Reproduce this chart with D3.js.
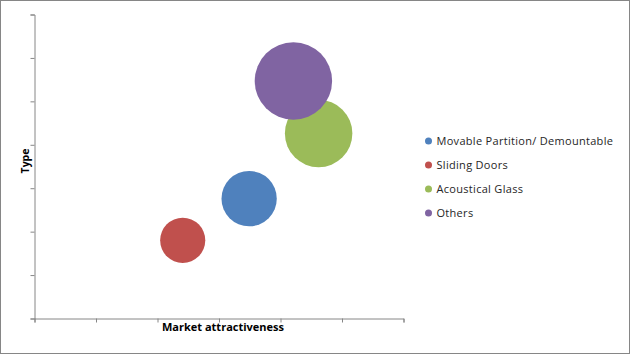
<!DOCTYPE html>
<html>
<head>
<meta charset="utf-8">
<script src="https://cdn.jsdelivr.net/npm/d3@7"></script>
<style>
  body { margin: 0; background: #fff; }
  svg { display: block; font-family: "Open Sans", "Liberation Sans", sans-serif; }
</style>
</head>
<body>
<div id="chart"></div>
<script>
// chart data
const categories = ["Movable Partition/ Demountable", "Sliding Doors", "Acoustical Glass", "Others"];
const xValues = [3.49, 2.41, 4.62, 4.21];     // market attractiveness
const yValues = [2.76, 1.80, 4.26, 5.47];     // type
const sizeValues = [5.1, 3.4, 7.6, 10];       // bubble size
const colors = ["#4f81bd", "#c0504d", "#9bbb59", "#8064a2"];
const xTicks = [0, 1, 2, 3, 4, 5, 6];
const yTicks = [0, 1, 2, 3, 4, 5, 6, 7];

const width = 630, height = 354;

const svg = d3.select("#chart").append("svg")
  .attr("width", width)
  .attr("height", height);

// outer border
svg.append("rect")
  .attr("x", 0.5).attr("y", 0.5)
  .attr("width", width - 1).attr("height", height - 1)
  .attr("fill", "#fff")
  .attr("stroke", "#868686");

const xScale = d3.scaleLinear().domain([0, 6]).range([34.5, 403.5]);
const yScale = d3.scaleLinear().domain([0, 7]).range([318.5, 14.5]);
const rScale = d3.scaleSqrt().domain([0, d3.max(sizeValues)]).range([0, 38.7]);

const xAxis = d3.axisBottom(xScale).tickValues(xTicks).tickSize(4).tickFormat("");
const yAxis = d3.axisLeft(yScale).tickValues(yTicks).tickSize(4).tickFormat("");

const gx = svg.append("g").attr("transform", "translate(0,318.5)").call(xAxis);
const gy = svg.append("g").attr("transform", "translate(34.5,0)").call(yAxis);
[gx, gy].forEach(g => {
  g.select(".domain").attr("stroke", "#868686");
  g.selectAll(".tick line").attr("stroke", "#868686");
});

// bubbles, drawn in data order (Others ends on top)
const data = categories.map((c, i) => ({
  name: c, x: xValues[i], y: yValues[i], size: sizeValues[i], color: colors[i]
}));

svg.selectAll("circle.bubble")
  .data(data)
  .enter()
  .append("circle")
  .attr("class", "bubble")
  .attr("cx", d => xScale(d.x))
  .attr("cy", d => yScale(d.y))
  .attr("r", d => rScale(d.size))
  .attr("fill", d => d.color);

// axis titles
svg.append("text")
  .attr("x", 223)
  .attr("y", 331)
  .attr("text-anchor", "middle")
  .style("font-size", "11px")
  .style("font-weight", "bold")
  .attr("fill", "#000")
  .text("Market attractiveness");

svg.append("text")
  .attr("transform", "translate(28.5,161) rotate(-90)")
  .attr("text-anchor", "middle")
  .style("font-size", "10.5px")
  .style("font-weight", "bold")
  .attr("fill", "#000")
  .text("Type");

// legend
const legend = svg.selectAll(".legend")
  .data(data)
  .enter()
  .append("g")
  .attr("class", "legend")
  .attr("transform", (d, i) => `translate(428.5, ${141 + i * 24})`);

legend.append("circle")
  .attr("r", 3.5)
  .attr("fill", d => d.color);

legend.append("text")
  .attr("x", 8)
  .attr("y", 4)
  .style("font-size", "11px")
  .style("letter-spacing", "0.3px")
  .attr("fill", "#262626")
  .text(d => d.name);
</script>
</body>
</html>
